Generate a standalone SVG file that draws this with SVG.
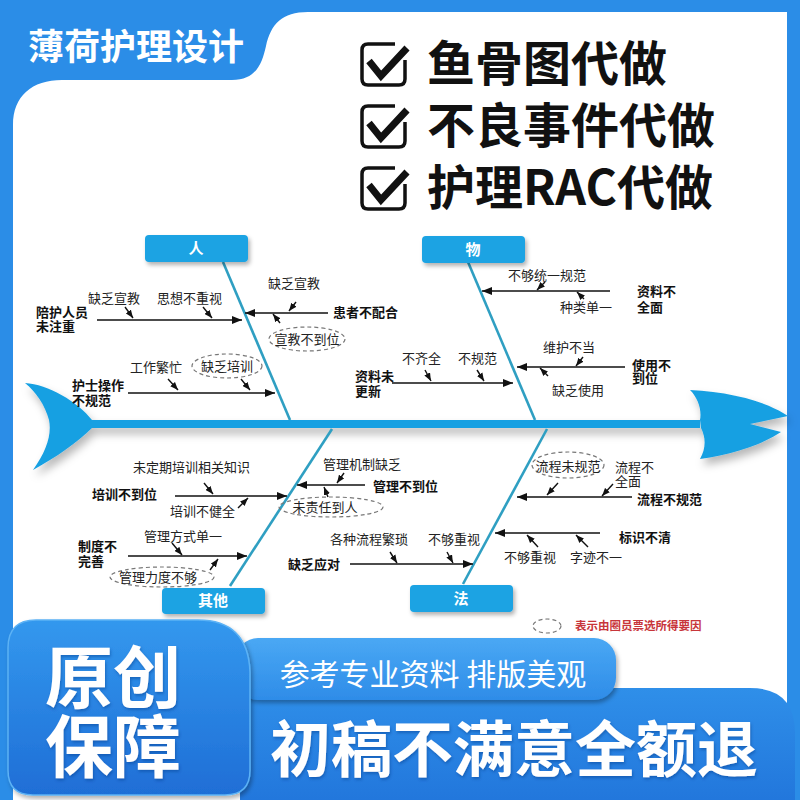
<svg xmlns="http://www.w3.org/2000/svg" width="800" height="800" viewBox="0 0 800 800">
<style>
text{font-family:"Noto Sans CJK SC","Noto Sans",sans-serif}
.s{font-size:13px;fill:#222}
.b{font-size:13px;font-weight:bold;fill:#111}
.bl{stroke:#111;stroke-width:1.6;fill:none}
.sa{stroke:#111;stroke-width:1.4;fill:none}
.rib{stroke:#2f9fc2;stroke-width:2.6;fill:none}
.box{fill:#1aa3e3}
.bt{font-size:15px;font-weight:bold;fill:#fff;text-anchor:middle}
.el{fill:none;stroke:#777;stroke-width:1.2;stroke-dasharray:4 3}
.et{text-anchor:middle}
.ck{fill:none;stroke:#111;stroke-width:3.5;stroke-linejoin:round}
.cm{fill:none;stroke:#111;stroke-width:7;stroke-linejoin:miter}
.big{font-size:48px;font-weight:bold;fill:#111}
.w{fill:#fff;font-weight:bold}
</style>
<defs>
<marker id="ah" markerUnits="userSpaceOnUse" viewBox="0 0 10 8" markerWidth="10" markerHeight="8" refX="10" refY="4" orient="auto"><path d="M0,0 L10,4 L0,8 z" fill="#111"/></marker>
<marker id="as" markerUnits="userSpaceOnUse" viewBox="0 0 10 8" markerWidth="8" markerHeight="7" refX="10" refY="4" orient="auto"><path d="M0,0 L10,4 L0,8 z" fill="#111"/></marker>
<filter id="sh" x="-20%" y="-20%" width="140%" height="160%"><feDropShadow dx="3" dy="6" stdDeviation="4" flood-color="#000" flood-opacity="0.28"/></filter>
<filter id="sb" x="-20%" y="-30%" width="140%" height="180%"><feDropShadow dx="2" dy="3" stdDeviation="2" flood-color="#000" flood-opacity="0.3"/></filter>
<filter id="ts" x="-10%" y="-10%" width="120%" height="130%"><feDropShadow dx="1" dy="2" stdDeviation="1.5" flood-color="#0a3d8a" flood-opacity="0.45"/></filter>
<linearGradient id="gb" x1="0" y1="0" x2="0" y2="1"><stop offset="0" stop-color="#3398ee"/><stop offset="1" stop-color="#1f6ed6"/></linearGradient>
<linearGradient id="gp" x1="0" y1="0" x2="0" y2="1"><stop offset="0" stop-color="#4aa8f4"/><stop offset="1" stop-color="#2e8ce8"/></linearGradient>
<linearGradient id="gl" x1="0" y1="0" x2="0" y2="1"><stop offset="0" stop-color="#2f8fe9"/><stop offset="1" stop-color="#2277dc"/></linearGradient>
</defs>

<!-- frame -->
<rect width="800" height="800" fill="#2b8de7"/>
<path d="M13 800 L13 125 C13 96 32 80 62 80 L232 80 C256 80 262 64 266 46 C271 24 282 12 308 12 L787 12 L787 800 Z" fill="#fff"/>
<text x="28" y="60" class="w" font-size="36">薄荷护理设计</text>

<!-- checklist -->
<g id="check1">
<path class="ck" d="M395 44 L368 44 Q362 44 362 50 L362 79 Q362 85 368 85 L399 85 Q405 85 405 79 L405 60"/>
<polyline class="cm" points="369,61 381,76 407,48"/>
<text x="427" y="81" class="big">鱼骨图代做</text>
</g>
<g id="check2" transform="translate(0,62)">
<path class="ck" d="M395 44 L368 44 Q362 44 362 50 L362 79 Q362 85 368 85 L399 85 Q405 85 405 79 L405 60"/>
<polyline class="cm" points="369,61 381,76 407,48"/>
<text x="427" y="81" class="big">不良事件代做</text>
</g>
<g id="check3" transform="translate(0,124)">
<path class="ck" d="M395 44 L368 44 Q362 44 362 50 L362 79 Q362 85 368 85 L399 85 Q405 85 405 79 L405 60"/>
<polyline class="cm" points="369,61 381,76 407,48"/>
<text x="427" y="81" class="big">护理RAC代做</text>
</g>

<!-- fish body -->
<g id="fish" filter="url(#sh)" fill="#19a0e2">
<path d="M25 383 C48 384 78 402 92 420 L700 420 L700 428 L92 428 C78 442 55 458 33 470 C46 452 52 435 49 420 C45 405 36 392 25 383 Z"/>
<path d="M690 390 C728 392 764 400 788 416 L750 424 L781 432 C760 446 730 455 700 459 C706 448 706 438 701 428 L700 420 C702 410 698 398 690 390 Z"/>
</g>

<!-- ribs -->
<g id="connectors">
<line class="rib" x1="223" y1="262" x2="290" y2="420"/>
<line class="rib" x1="468" y1="262" x2="535" y2="420"/>
<line class="rib" x1="230" y1="586" x2="332" y2="429"/>
<line class="rib" x1="463" y1="584" x2="547" y2="429"/>

<!-- 人 -->
<line class="bl" x1="97" y1="320" x2="242" y2="320" marker-end="url(#ah)"/>
<line class="sa" x1="125" y1="307" x2="133" y2="318" marker-end="url(#as)"/>
<line class="sa" x1="203" y1="307" x2="212" y2="318" marker-end="url(#as)"/>
<line class="bl" x1="328" y1="313" x2="245" y2="313" marker-end="url(#ah)"/>
<line class="sa" x1="296" y1="302" x2="289" y2="311" marker-end="url(#as)"/>
<line class="sa" x1="280" y1="323" x2="273" y2="314" marker-end="url(#as)"/>
<line class="sa" x1="168" y1="379" x2="178" y2="390" marker-end="url(#as)"/>
<line class="sa" x1="241" y1="379" x2="250" y2="390" marker-end="url(#as)"/>
<line class="bl" x1="128" y1="393" x2="275" y2="393" marker-end="url(#ah)"/>
<!-- 物 -->
<line class="bl" x1="610" y1="291" x2="482" y2="291" marker-end="url(#ah)"/>
<line class="sa" x1="545" y1="282" x2="537" y2="290" marker-end="url(#as)"/>
<line class="sa" x1="584" y1="299" x2="577" y2="292" marker-end="url(#as)"/>
<line class="bl" x1="625" y1="367" x2="517" y2="367" marker-end="url(#ah)"/>
<line class="sa" x1="583" y1="357" x2="576" y2="366" marker-end="url(#as)"/>
<line class="sa" x1="548" y1="376" x2="540" y2="368" marker-end="url(#as)"/>
<line class="bl" x1="392" y1="383" x2="513" y2="383" marker-end="url(#ah)"/>
<line class="sa" x1="425" y1="370" x2="431" y2="381" marker-end="url(#as)"/>
<line class="sa" x1="477" y1="370" x2="484" y2="381" marker-end="url(#as)"/>
<!-- 其他 -->
<line class="bl" x1="175" y1="496" x2="287" y2="496" marker-end="url(#ah)"/>
<line class="sa" x1="204" y1="483" x2="213" y2="494" marker-end="url(#as)"/>
<line class="sa" x1="238" y1="508" x2="248" y2="498" marker-end="url(#as)"/>
<line class="bl" x1="365" y1="485" x2="297" y2="485" marker-end="url(#ah)"/>
<line class="sa" x1="344" y1="473" x2="337" y2="483" marker-end="url(#as)"/>
<line class="sa" x1="328" y1="497" x2="324" y2="487" marker-end="url(#as)"/>
<line class="bl" x1="128" y1="556" x2="247" y2="556" marker-end="url(#ah)"/>
<line class="sa" x1="172" y1="543" x2="182" y2="555" marker-end="url(#as)"/>
<line class="sa" x1="210" y1="570" x2="218" y2="559" marker-end="url(#as)"/>
<line class="bl" x1="350" y1="564" x2="473" y2="564" marker-end="url(#ah)"/>
<line class="sa" x1="390" y1="552" x2="397" y2="563" marker-end="url(#as)"/>
<line class="sa" x1="447" y1="552" x2="453" y2="563" marker-end="url(#as)"/>
<!-- 法 -->
<line class="bl" x1="632" y1="497" x2="517" y2="497" marker-end="url(#ah)"/>
<line class="sa" x1="558" y1="483" x2="547" y2="495" marker-end="url(#as)"/>
<line class="sa" x1="613" y1="484" x2="602" y2="496" marker-end="url(#as)"/>
<line class="bl" x1="600" y1="533" x2="495" y2="533" marker-end="url(#ah)"/>
<line class="sa" x1="538" y1="547" x2="527" y2="535" marker-end="url(#as)"/>
<line class="sa" x1="588" y1="547" x2="576" y2="535" marker-end="url(#as)"/>
</g>

<!-- category boxes -->
<g id="n-ren"><rect class="box" x="145" y="235" width="103" height="27" rx="4" filter="url(#sb)"/><text class="bt" x="196" y="254">人</text></g>
<g id="n-wu"><rect class="box" x="422" y="236" width="103" height="27" rx="4" filter="url(#sb)"/><text class="bt" x="473" y="255">物</text></g>
<g id="n-qita"><rect class="box" x="162" y="588" width="103" height="26" rx="4" filter="url(#sb)"/><text class="bt" x="213" y="606">其他</text></g>
<g id="n-fa"><rect class="box" x="410" y="585" width="103" height="27" rx="4" filter="url(#sb)"/><text class="bt" x="461" y="604">法</text></g>

<!-- 人 texts -->
<g id="ren-causes">
<text class="b" x="36" y="317">陪护人员</text><text class="b" x="36" y="331">未注重</text>
<text class="s" x="88" y="303">缺乏宣教</text>
<text class="s" x="157" y="303">思想不重视</text>
<text class="b" x="333" y="317">患者不配合</text>
<text class="s" x="268" y="288">缺乏宣教</text>
<ellipse class="el" cx="307" cy="339" rx="38" ry="12"/><text class="s et" x="307" y="344">宣教不到位</text>
<text class="s" x="130" y="372">工作繁忙</text>
<ellipse class="el" cx="227" cy="366" rx="35" ry="12"/><text class="s et" x="227" y="371">缺乏培训</text>
<text class="b" x="72" y="390">护士操作</text><text class="b" x="72" y="405">不规范</text>
</g>
<!-- 物 texts -->
<g id="wu-causes">
<text class="s" x="508" y="280">不够统一规范</text>
<text class="s" x="560" y="312">种类单一</text>
<text class="b" x="637" y="296">资料不</text><text class="b" x="637" y="312">全面</text>
<text class="s" x="543" y="352">维护不当</text>
<text class="s" x="552" y="395">缺乏使用</text>
<text class="b" x="632" y="370">使用不</text><text class="b" x="632" y="383">到位</text>
<text class="b" x="355" y="381">资料未</text><text class="b" x="355" y="396">更新</text>
<text class="s" x="402" y="363">不齐全</text>
<text class="s" x="458" y="363">不规范</text>
</g>
<!-- 其他 texts -->
<g id="qita-causes">
<text class="s" x="133" y="472">未定期培训相关知识</text>
<text class="b" x="92" y="499">培训不到位</text>
<text class="s" x="170" y="516">培训不健全</text>
<text class="s" x="323" y="469">管理机制缺乏</text>
<text class="b" x="373" y="491">管理不到位</text>
<ellipse class="el" cx="331" cy="507" rx="52" ry="10"/><text class="s et" x="325" y="512">未责任到人</text>
<text class="b" x="78" y="551">制度不</text><text class="b" x="78" y="566">完善</text>
<text class="s" x="144" y="541">管理方式单一</text>
<ellipse class="el" cx="162" cy="577" rx="52" ry="10"/><text class="s et" x="158" y="582">管理力度不够</text>
<text class="b" x="288" y="569">缺乏应对</text>
<text class="s" x="330" y="544">各种流程繁琐</text>
<text class="s" x="428" y="544">不够重视</text>
</g>
<!-- 法 texts -->
<g id="fa-causes">
<ellipse class="el" cx="568" cy="465" rx="36" ry="13"/><text class="s et" x="568" y="471">流程未规范</text>
<text class="s" x="615" y="472">流程不</text><text class="s" x="615" y="486">全面</text>
<text class="b" x="637" y="504">流程不规范</text>
<text class="b" x="619" y="542">标识不清</text>
<text class="s" x="504" y="562">不够重视</text>
<text class="s" x="570" y="562">字迹不一</text>
</g>
<!-- legend -->
<g id="legend">
<ellipse class="el" cx="547" cy="626" rx="14" ry="7"/>
<text x="575" y="630" font-size="11.5" font-weight="bold" fill="#c8353a">表示由圈员票选所得要因</text>
</g>

<!-- bottom banners -->
<g id="bottom">
<path d="M240 688 L750 688 Q795 688 795 733 L795 800 L240 800 Z" fill="url(#gl)"/>
<rect x="236" y="638" width="380" height="62" rx="22" fill="url(#gp)" filter="url(#sb)"/>
<text x="433" y="685" font-size="30" fill="#fff" text-anchor="middle">参考专业资料 排版美观</text>
<text x="270" y="772" font-size="61" class="w" filter="url(#ts)">初稿不满意全额退</text>
<path d="M8 648 Q8 620 36 620 L198 620 Q248 620 250 672 L250 770 Q250 795 225 795 L33 795 Q8 795 8 770 Z" fill="url(#gb)" stroke="#5cb2f5" stroke-width="1.5" filter="url(#sb)"/>
<text x="113" y="703" font-size="68" class="w" text-anchor="middle" filter="url(#ts)">原创</text>
<text x="113" y="772" font-size="68" class="w" text-anchor="middle" filter="url(#ts)">保障</text>
</g>
</svg>
